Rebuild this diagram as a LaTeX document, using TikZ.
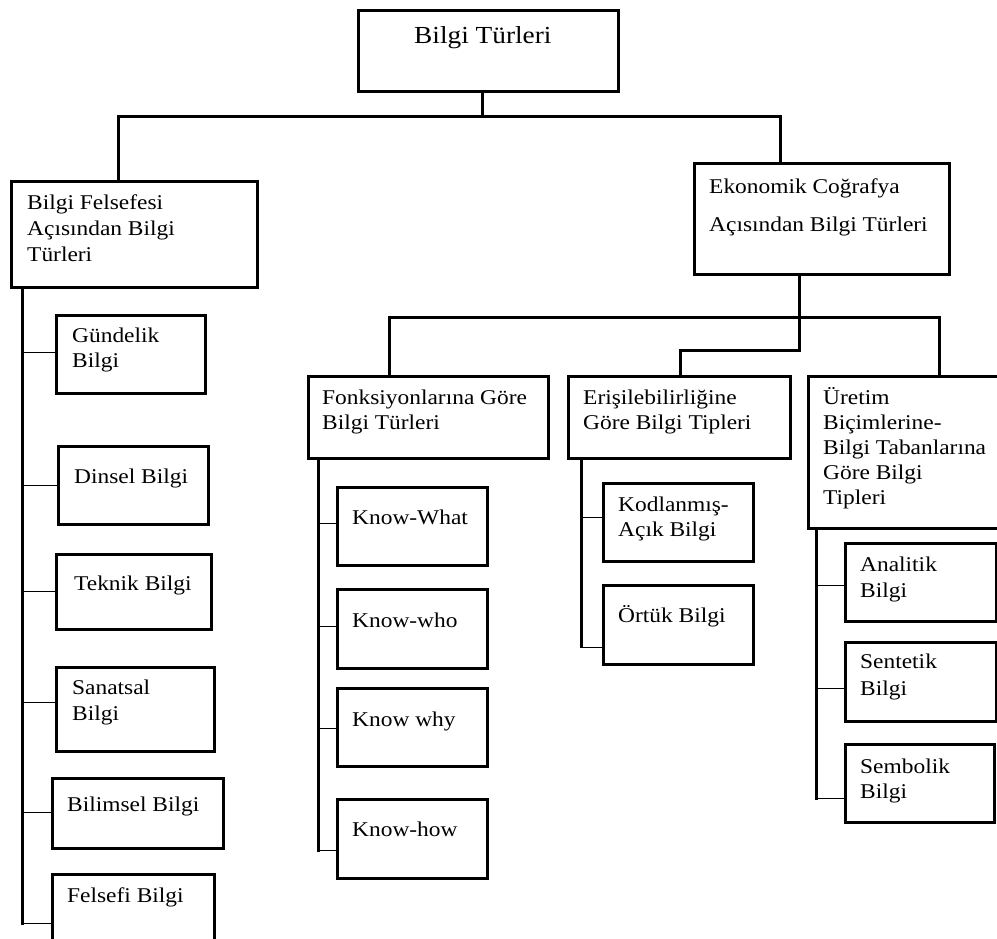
\documentclass[tikz,border=0pt]{standalone}
\usepackage{fontspec}
\setmainfont{Liberation Serif}[FakeStretch=1.115]
\newcommand\bxstrut{\rule{0pt}{24pt}}
\begin{document}
\begin{tikzpicture}[x=1pt,y=-1pt,
  box/.style={draw, line width=3pt, inner sep=0pt, anchor=north west},
  txt/.style={anchor=north west, inner sep=0pt, align=left,
              font=\fontsize{21}{25.5}\selectfont},
  conn/.style={line width=3pt},
  spine/.style={line width=3pt},
  tick/.style={line width=1pt}]
\useasboundingbox (0,0) rectangle (997,939);
\clip (0,0) rectangle (997,939);

% ---- boxes ----
\node[box, minimum width=260pt, minimum height=81pt]  (root) at (357,9)   {};
\node[box, minimum width=246pt, minimum height=106pt] (bf)   at (10,180)  {};
\node[box, minimum width=255pt, minimum height=111pt] (ek)   at (693,162) {};
\node[box, minimum width=240pt, minimum height=82pt]  (fg)   at (307,375) {};
\node[box, minimum width=222pt, minimum height=82pt]  (eg)   at (567,375) {};
\node[box, minimum width=195pt, minimum height=152pt] (ug)   at (807,375) {};
\node[box, minimum width=149pt, minimum height=78pt]  (gd)   at (55,314)  {};
\node[box, minimum width=150pt, minimum height=78pt]  (ds)   at (57,445)  {};
\node[box, minimum width=155pt, minimum height=75pt]  (tk)   at (55,553)  {};
\node[box, minimum width=158pt, minimum height=84pt]  (sn)   at (55,666)  {};
\node[box, minimum width=171pt, minimum height=70pt]  (bl)   at (51,777)  {};
\node[box, minimum width=162pt, minimum height=90pt]  (fs)   at (51,873)  {};
\node[box, minimum width=150pt, minimum height=78pt]  (kw)   at (336,486) {};
\node[box, minimum width=150pt, minimum height=79pt]  (kwho) at (336,588) {};
\node[box, minimum width=150pt, minimum height=78pt]  (kwhy) at (336,687) {};
\node[box, minimum width=150pt, minimum height=79pt]  (khow) at (336,798) {};
\node[box, minimum width=150pt, minimum height=78pt]  (kod)  at (602,482) {};
\node[box, minimum width=150pt, minimum height=79pt]  (ort)  at (602,584) {};
\node[box, minimum width=151pt, minimum height=78pt]  (an)   at (844,542) {};
\node[box, minimum width=151pt, minimum height=79pt]  (sen)  at (844,641) {};
\node[box, minimum width=149pt, minimum height=78pt]  (sem)  at (844,743) {};

% ---- texts (first baseline 24pt below the node top) ----
\node[txt, font=\fontsize{24.5}{29}\selectfont] (troot) at (414,19) {\bxstrut Bilgi Türleri};
\node[txt, font=\fontsize{21}{26}\selectfont] (tbf) at (27,185) {\bxstrut Bilgi Felsefesi\\Açısından Bilgi\\Türleri};
\node[txt] (tek) at (709,169) {\bxstrut Ekonomik Coğrafya\\[12.5pt]Açısından Bilgi Türleri};
\node[txt] (tfg) at (322,380) {\bxstrut Fonksiyonlarına Göre\\Bilgi Türleri};
\node[txt] (teg) at (583,380) {\bxstrut Erişilebilirliğine\\Göre Bilgi Tipleri};
\node[txt, font=\fontsize{21}{25}\selectfont] (tug) at (823,380) {\bxstrut Üretim\\Biçimlerine-\\Bilgi Tabanlarına\\Göre Bilgi\\Tipleri};
\node[txt, font=\fontsize{21}{25}\selectfont] (tgd) at (72,318) {\bxstrut Gündelik\\Bilgi};
\node[txt] (tds) at (74,459) {\bxstrut Dinsel Bilgi};
\node[txt] (ttk) at (74,566) {\bxstrut Teknik Bilgi};
\node[txt, font=\fontsize{21}{26}\selectfont] (tsn) at (72,670) {\bxstrut Sanatsal\\Bilgi};
\node[txt] (tbl) at (67,787) {\bxstrut Bilimsel Bilgi};
\node[txt] (tfs) at (67,878) {\bxstrut Felsefi Bilgi};
\node[txt] (tkw) at (352,500) {\bxstrut Know-What};
\node[txt] (tkwho) at (352,603) {\bxstrut Know-who};
\node[txt] (tkwhy) at (352,702) {\bxstrut Know why};
\node[txt] (tkhow) at (352,812) {\bxstrut Know-how};
\node[txt] (tkod) at (618,487) {\bxstrut Kodlanmış-\\Açık Bilgi};
\node[txt] (tort) at (618,598) {\bxstrut Örtük Bilgi};
\node[txt, font=\fontsize{21}{26}\selectfont] (tan) at (860,547) {\bxstrut Analitik\\Bilgi};
\node[txt, font=\fontsize{21}{27}\selectfont] (tsen) at (860,644) {\bxstrut Sentetik\\Bilgi};
\node[txt] (tsem) at (860,749) {\bxstrut Sembolik\\Bilgi};

% ---- top level connectors ----
\coordinate (j0) at (482,117);
\coordinate (jl) at (118,117);
\coordinate (jr) at (780,117);
\draw[conn] (j0 |- root.south) -- (j0);
\draw[conn] (jl |- bf.north) -- (jl) -- (jr) -- (jr |- ek.north);

% ---- second level connectors ----
\coordinate (km) at (799,350);
\coordinate (kmm) at (680,350);
\coordinate (kl) at (389,317);
\coordinate (kr) at (939,317);
\draw[conn] (km |- ek.south) -- (km) -- (kmm) -- (kmm |- eg.north);
\draw[conn] (kl |- fg.north) -- (kl) -- (kr) -- (kr |- ug.north);

% ---- spines and ticks: philosophy branch ----
\coordinate (s1) at (22,925);
\draw[spine] (s1 |- bf.south) -- (s1);
\foreach \y/\b in {352/gd, 485/ds, 591/tk, 702/sn, 812/bl, 923/fs}
  \draw[tick] (22,\y) -- (22,\y -| \b.west);

% ---- spines and ticks: functions ----
\coordinate (s2) at (318,852);
\draw[spine] (s2 |- fg.south) -- (s2);
\foreach \y/\b in {523/kw, 626/kwho, 728/kwhy, 850/khow}
  \draw[tick] (318,\y) -- (318,\y -| \b.west);

% ---- spines and ticks: accessibility ----
\coordinate (s3) at (581,648);
\draw[spine] (s3 |- eg.south) -- (s3);
\foreach \y/\b in {517/kod, 647/ort}
  \draw[tick] (581,\y) -- (581,\y -| \b.west);

% ---- spines and ticks: production modes ----
\coordinate (s4) at (816,800);
\draw[spine] (s4 |- ug.south) -- (s4);
\foreach \y/\b in {585/an, 688/sen, 798/sem}
  \draw[tick] (816,\y) -- (816,\y -| \b.west);
\end{tikzpicture}
\end{document}
